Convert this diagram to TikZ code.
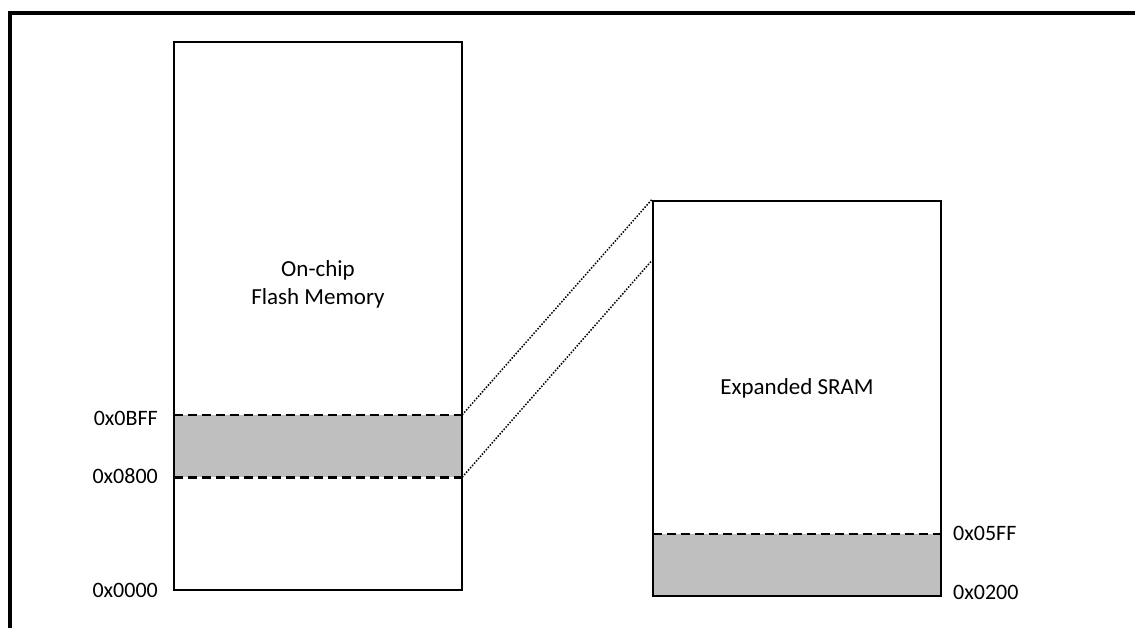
\documentclass[tikz,border=0pt]{standalone}
\usepackage{fontspec}
\setmainfont{Carlito}
\begin{document}
\begin{tikzpicture}[x=1pt,y=-1pt,
  membox/.style={draw=black,line width=2.6pt,fill=none,inner sep=0pt,rectangle},
  band/.style={fill=black!25,draw=none,inner sep=0pt,rectangle},
  bandedge/.style={line width=2.6pt,dash pattern=on 9pt off 5pt},
  link/.style={line width=1.5pt,dash pattern=on 1.5pt off 1.5pt},
  addr/.style={font=\fontsize{22}{24}\selectfont,inner sep=0pt},
  title/.style={font=\fontsize{23}{28}\selectfont,align=center,inner sep=0pt}]
\useasboundingbox (0,0) rectangle (1135,628);

% frame (open at right and bottom)
\draw[line width=4pt] (9.5,628) -- (9.5,13) -- (1135,13);

% flash memory column
\node[band,minimum width=288pt,minimum height=62pt] (fband) at (318,446) {};
\draw[bandedge] (fband.north west) -- (fband.north east);
\draw[bandedge] (fband.south west) -- (fband.south east);
\node[membox,minimum width=288pt,minimum height=548pt] (flash) at (318,316) {};
\node[title] (ftext) at (318,284) {On-chip\\Flash Memory};

% expanded SRAM column
\node[band,minimum width=288pt,minimum height=62pt] (sband) at (797,565) {};
\draw[bandedge] (sband.north west) -- (sband.north east);
\node[membox,minimum width=288pt,minimum height=395pt] (sram) at (797,398.5) {};
\node[title] (stext) at (797,388) {Expanded SRAM};

% mapping of the flash window onto the SRAM
\coordinate (sramtop) at (sram.north west);
\coordinate (sramlow) at ([yshift=-61pt]sram.north west);
\draw[link] (fband.north east) -- (sramtop);
\draw[link] (fband.south east) -- (sramlow);

% address labels
\node[addr,anchor=east] (a0bff) at (158,418) {0x0BFF};
\node[addr,anchor=east] (a0800) at (158,476) {0x0800};
\node[addr,anchor=east] (a0000) at (158,590) {0x0000};
\node[addr,anchor=west] (a05ff) at (953,533) {0x05FF};
\node[addr,anchor=west] (a0200) at (953,592) {0x0200};
\end{tikzpicture}
\end{document}
